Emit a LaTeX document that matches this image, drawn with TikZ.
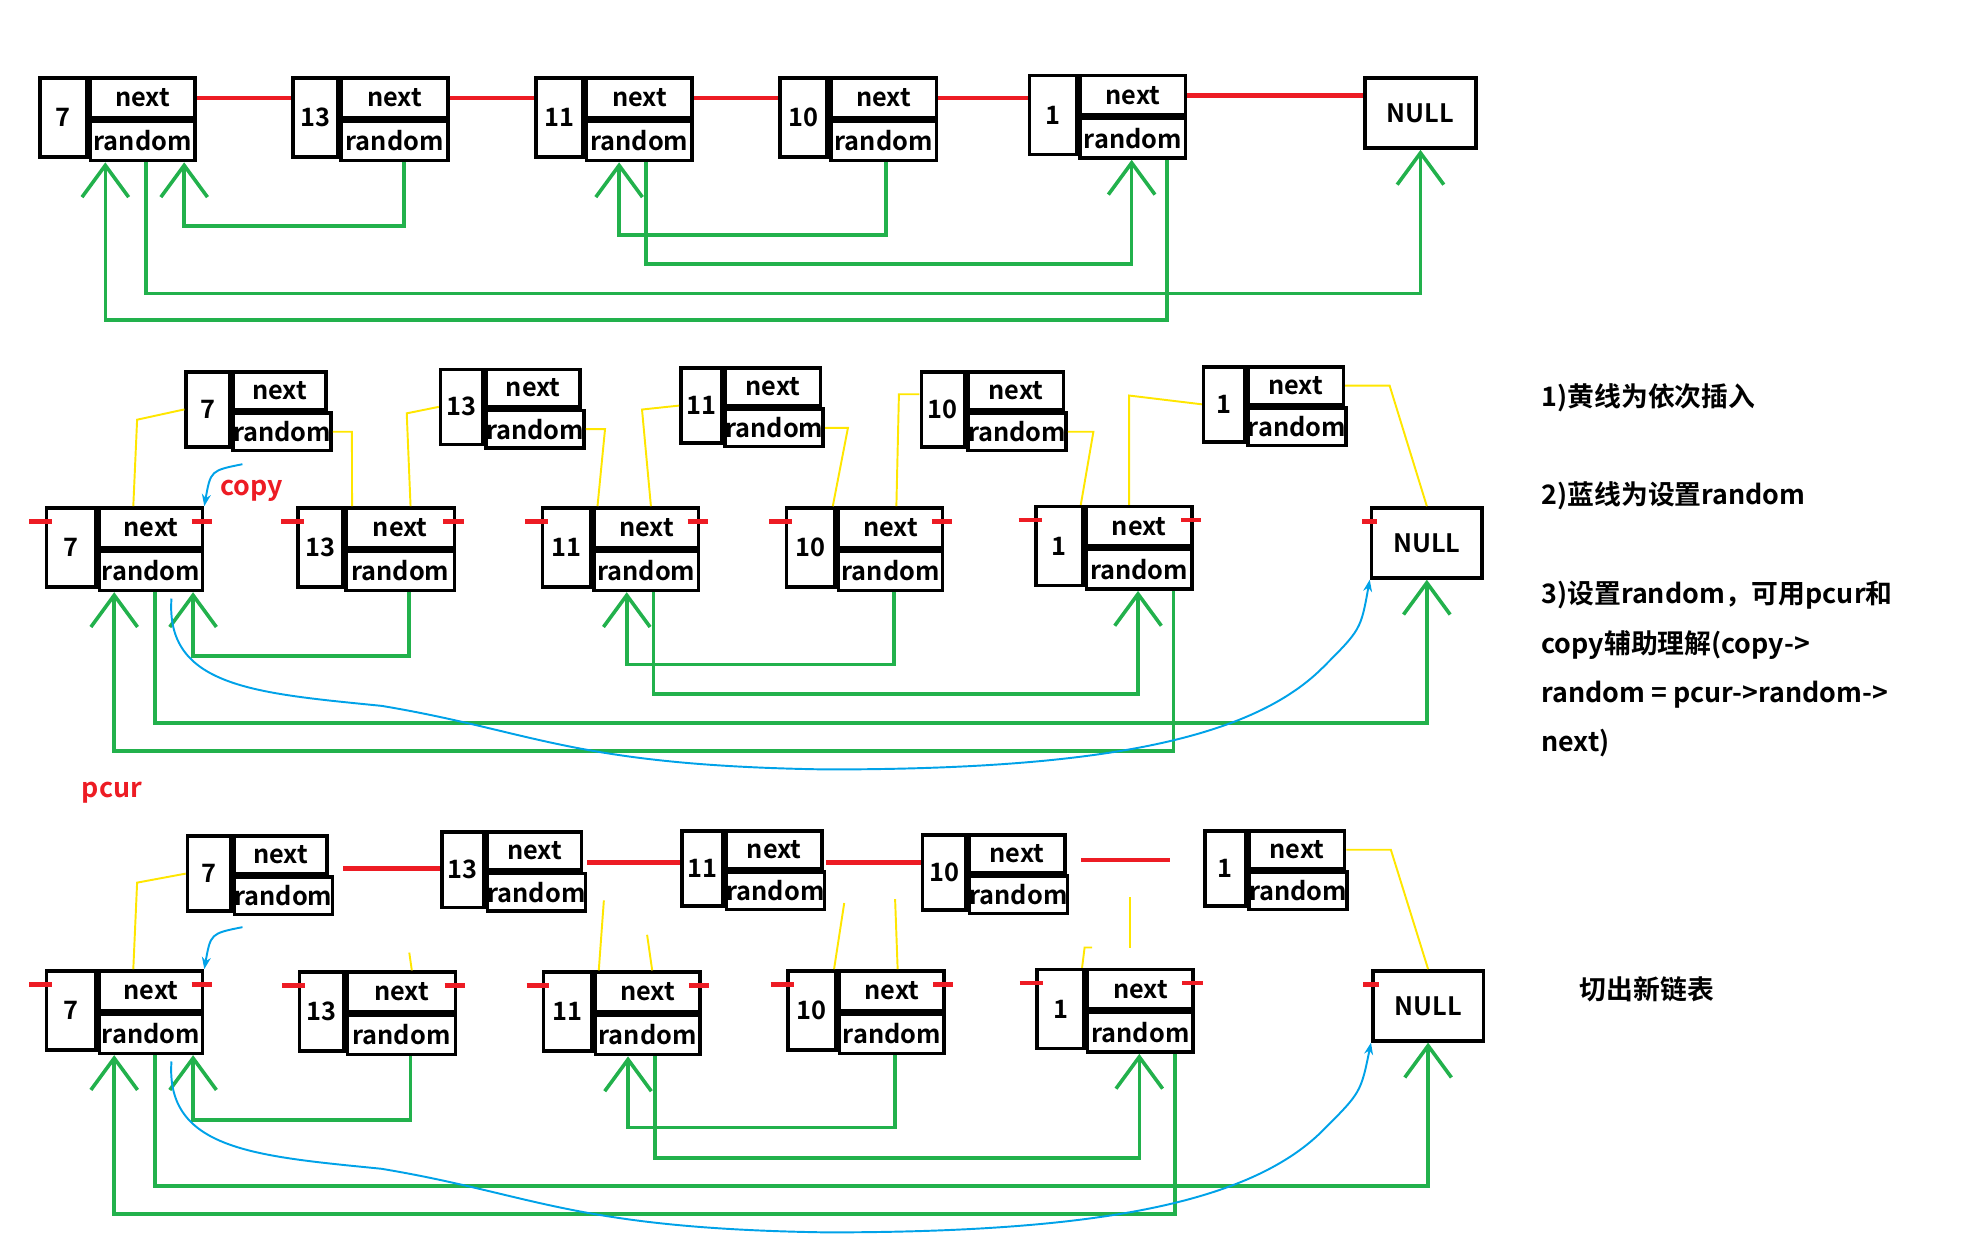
\documentclass[tikz,border=0pt]{standalone}
\usepackage{fontspec}
\setmainfont{Noto Sans CJK SC}[BoldFont={Noto Sans CJK SC Bold}]
\usepackage{tikz}
\usetikzlibrary{calc,arrows.meta}
\definecolor{lgreen}{RGB}{34,177,76}
\definecolor{lred}{RGB}{237,28,36}
\definecolor{lyellow}{RGB}{255,230,0}
\definecolor{lblue}{RGB}{0,162,232}
\def\u{0.03cm}
\tikzset{cell/.style = {rectangle, draw=black, line width=2.4pt, inner sep=0pt, font=\fontsize{17}{19}\selectfont\bfseries},
  gline/.style = {draw=lgreen, line width=2.4pt},
  garrow/.style = {gline, -{Straight Barb[length=0.75cm,width=1.1cm,line width=2.4pt]}},
  rline/.style = {draw=lred, line width=3pt},
  yline/.style = {draw=lyellow, line width=1.3pt},
  bline/.style = {draw=lblue, line width=1.3pt},
  note/.style = {anchor=west, font=\fontsize{18}{20}\selectfont\bfseries}}
% list node: name, x, y, number, number width, cell width, height
\newcommand\lnode[7]{%
  \node[cell, minimum width=(#5-3)*\u, minimum height=(#7-3)*\u, anchor=north west] (#1) at (#2,#3) {#4};
  \node[cell, minimum width=(#6-5)*\u, minimum height=(#7-3)/2*\u, anchor=north west] (#1x) at (#1.north east) {next};
  \node[cell, minimum width=(#6-5)*\u, minimum height=(#7-3)/2*\u, anchor=north west] (#1r) at (#1x.south west) {random};}
% random pointers of one row
\newcommand\randlinks[1]{%
  \draw[garrow] ($(#17r.south west)+(45,0)$) -- ++(0,103) -| (#1N.south);
  \draw[garrow] ($(#113r.south west)+(51,0)$) -- ++(0,50) -| ($(#17r.south west)+(75,0)$);
  \draw[garrow] ($(#111r.south west)+(48,0)$) -- ++(0,80) -| ($(#11r.south west)+(42,0)$);
  \draw[garrow] ($(#110r.south west)+(45,0)$) -- ++(0,57) -| ($(#111r.south west)+(27,0)$);
  \draw[garrow] ($(#11r.south west)+(70,0)$) -- ++(0,126) -| ($(#17r.south west)+(13,0)$);}
% red stubs on the original nodes
\newcommand\stubs[1]{%
  \foreach \n in {7,13,11,10,1} {
    \draw[rline] ($(#1\n x.north east)+(-10,12)$) -- ++(16,0);
    \draw[rline] ($(#1\n.north west)+(-12,12)$) -- ++(18,0);}
  \draw[rline] ($(#1N.north west)+(-6,12)$) -- ++(12,0);}
\begin{document}
\begin{tikzpicture}[x=\u, y=-\u]
\useasboundingbox (0,0) rectangle (1560,975);

% row 1: original list
\lnode{a7}{30}{60}{7}{40}{87}{65}
\lnode{a13}{229}{60}{13}{38}{89}{65}
\lnode{a11}{420}{60}{11}{40}{88}{65}
\lnode{a10}{612}{60}{10}{40}{88}{65}
\lnode{a1}{808}{58}{1}{40}{88}{65}
\node[cell, minimum width=87*\u, minimum height=55*\u, anchor=north west] (aN) at (1072,60) {NULL};
\foreach \s/\t in {7/13,13/11,11/10,10/1} {
  \draw[rline] (a\s x.east) -- (a\s x.east -| a\t.west);}
\draw[rline] (a1x.east) -- (a1x.east -| aN.west);
\randlinks{a}

% row 2: copies inserted
\lnode{c7}{145}{291}{7}{37}{78}{62}
\lnode{c13}{345}{289}{13}{36}{79}{62}
\lnode{c11}{534}{288}{11}{35}{80}{62}
\lnode{c10}{723}{291}{10}{37}{80}{62}
\lnode{c1}{945}{287}{1}{35}{80}{62}
\lnode{b7}{35}{398}{7}{42}{86}{65}
\lnode{b13}{233}{398}{13}{38}{90}{65}
\lnode{b11}{425}{398}{11}{41}{87}{65}
\lnode{b10}{617}{398}{10}{41}{87}{65}
\lnode{b1}{813}{397}{1}{40}{88}{65}
\node[cell, minimum width=87*\u, minimum height=55*\u, anchor=north west] (bN) at (1077,398) {NULL};
\stubs{b}
\draw[yline] ($(b7x.north west)+(28,0)$) -- ++(3,-68) -- (c7.west);
\draw[yline] (c7r.east) -- ++(15,0) -- ($(b13x.north west)+(6,0)$);
\draw[yline] ($(b13x.north west)+(52,0)$) -- ++(-3,-73) -- (c13.west);
\draw[yline] (c13r.east) -- ++(15,0) -- ($(b11x.north west)+(4,0)$);
\draw[yline] ($(b11x.north west)+(46,0)$) -- ++(-7,-76) -- (c11.west);
\draw[yline] (c11r.east) -- ++(18,0) -- ($(b10x.north west)+(-3,0)$);
\draw[yline] ($(b10x.north west)+(47,0)$) -- ++(2,-88) -- ++(16,0);
\draw[yline] (c10r.east) -- ++(20,0) -- ($(b1x.north west)+(-3,0)$);
\draw[yline] ($(b1x.north west)+(35,0)$) -- ++(0,-86) -- (c1.west);
\draw[yline] (c1x.east) -- ++(35,0) -- (bN.north);
\randlinks{b}
\draw[bline, -{Stealth[length=8pt]}] ($(b7x.north east)+(30,-33)$) .. controls ($(b7x.north east)+(5,-28)$) .. (b7x.north east);
\node[text=lred, font=\fontsize{18}{20}\selectfont\bfseries] (copy) at (198,386) {copy};
\draw[bline, -{Stealth[length=8pt]}] ($(b7r.south west)+(58,5)$) .. controls (130,540) and (200,545) .. (300,555)
  .. controls (420,575) and (450,602) .. (650,605) .. controls (850,605) and (980,585) .. (1040,525)
  .. controls (1070,495) .. (bN.south west);
\node[text=lred, font=\fontsize{18}{20}\selectfont\bfseries] (pcur) at (88,623) {pcur};

% row 3: new list cut out
\lnode{e7}{146}{656}{7}{37}{78}{62}
\lnode{e13}{346}{653}{13}{36}{79}{62}
\lnode{e11}{535}{652}{11}{35}{80}{62}
\lnode{e10}{724}{655}{10}{37}{80}{62}
\lnode{e1}{946}{652}{1}{35}{80}{62}
\lnode{d7}{35}{762}{7}{42}{86}{65}
\lnode{d13}{234}{763}{13}{38}{90}{65}
\lnode{d11}{426}{763}{11}{41}{87}{65}
\lnode{d10}{618}{762}{10}{41}{87}{65}
\lnode{d1}{814}{761}{1}{40}{88}{65}
\node[cell, minimum width=87*\u, minimum height=55*\u, anchor=north west] (dN) at (1078,762) {NULL};
\stubs{d}
\draw[rline] (270,683) -- (e13.west |- 0,683);
\draw[rline] (e13r.east |- 0,678) -- (e11.west |- 0,678);
\draw[rline] (e11r.east |- 0,678) -- (e10.west |- 0,678);
\draw[rline] (850,676) -- ++(70,0);
\draw[yline] ($(d7x.north west)+(28,0)$) -- ++(3,-68) -- (e7.west);
\draw[yline] ($(d13x.north west)+(52,0)$) -- ++(-2,-14);
\draw[yline] ($(d11x.north west)+(4,0)$) -- ++(4,-55);
\draw[yline] ($(d11x.north west)+(46,0)$) -- ++(-4,-28);
\draw[yline] ($(d10x.north west)+(-3,0)$) -- ++(8,-52);
\draw[yline] ($(d10x.north west)+(47,0)$) -- ++(-2,-55);
\draw[yline] ($(d1x.north west)+(-3,0)$) -- ++(2,-16) -- ++(6,0);
\draw[yline] ($(d1x.north west)+(35,-16)$) -- ++(0,-40);
\draw[yline] (e1x.east) -- ++(35,0) -- (dN.north);
\randlinks{d}
\draw[bline, -{Stealth[length=8pt]}] ($(d7x.north east)+(30,-33)$) .. controls ($(d7x.north east)+(5,-28)$) .. (d7x.north east);
\draw[bline, -{Stealth[length=8pt]}] ($(d7r.south west)+(58,5)$) .. controls (130,904) and (200,909) .. (300,919)
  .. controls (420,939) and (450,966) .. (650,969) .. controls (850,969) and (980,949) .. (1040,889)
  .. controls (1070,859) .. (dN.south west);

% notes
\node[note] (n1) at (1208,313) {1)黄线为依次插入};
\node[note] (n2) at (1208,390) {2)蓝线为设置random};
\node[note] (n3) at (1208,468) {3)设置random，可用pcur和};
\node[note] (n4) at (1208,507) {copy辅助理解(copy->};
\node[note] (n5) at (1208,546) {random = pcur->random->};
\node[note] (n6) at (1208,584) {next)};
\node[note] (n7) at (1238,778) {切出新链表};
\end{tikzpicture}
\end{document}
